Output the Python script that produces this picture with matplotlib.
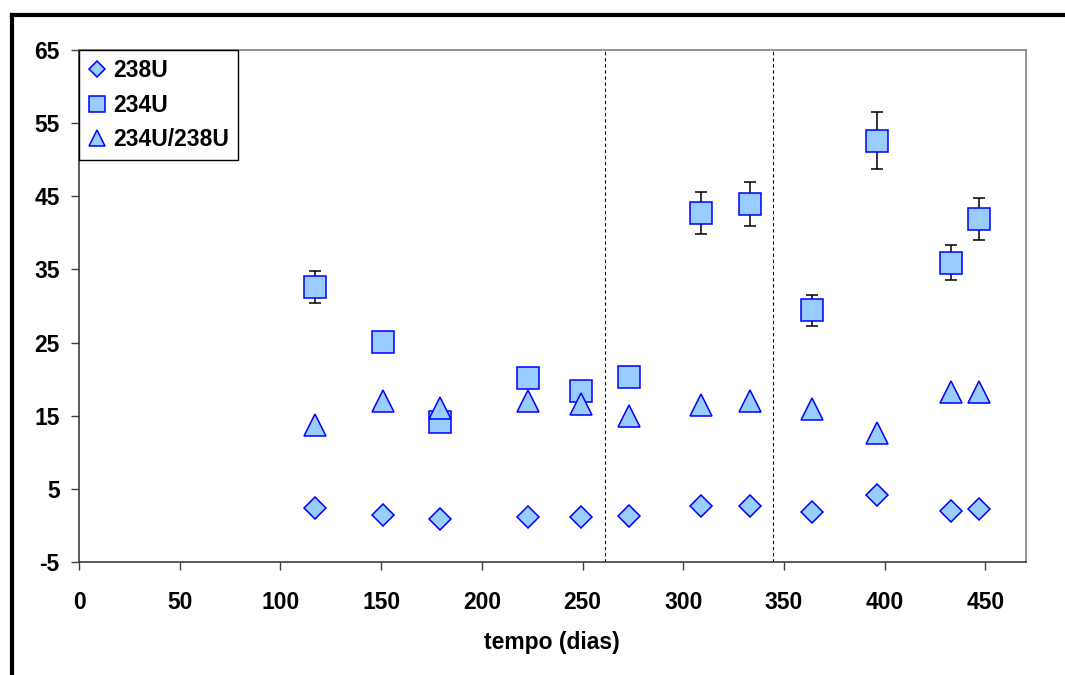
import numpy as np
import matplotlib
matplotlib.use("Agg")
import matplotlib.pyplot as plt
from matplotlib.lines import Line2D

# dias de amostragem
tempo = [117, 151, 179, 223, 249, 273, 309, 333, 364, 396, 433, 447]

u238 = [2.4, 1.4, 0.9, 1.15, 1.15, 1.3, 2.6, 2.6, 1.8, 4.2, 1.95, 2.3]
u234 = [32.6, 25.1, 14.1, 20.2, 18.4, 20.3, 42.7, 44.0, 29.4, 52.6, 35.9, 41.9]
u234_err = [2.2, 1.0, 1.0, 1.0, 1.0, 1.0, 2.9, 3.0, 2.1, 3.9, 2.4, 2.9]
razao = [13.7, 17.0, 16.0, 17.0, 16.6, 15.0, 16.4, 17.0, 15.9, 12.6, 18.3, 18.3]

# limites entre fases
fases = [261, 344.5]

face = '#99ccff'
edge = '#0000ff'
fs = 16.5

plt.rcParams['font.family'] = ['Liberation Sans', 'DejaVu Sans']
plt.rcParams['font.weight'] = 'bold'
plt.rcParams['axes.unicode_minus'] = False

fig = plt.figure(figsize=[10.65, 6.75], dpi=100)
ax = fig.add_axes([0.0742, 0.1674, 0.8889, 0.7585])

for xf in fases:
    ax.axvline(xf, color='k', lw=0.8, ls=(0, (3, 2.5)), zorder=1)

l238, = ax.plot(tempo, u238, ls='none', marker='D', ms=11.6, mfc=face,
                mec=edge, mew=1.1, zorder=3)
eb = ax.errorbar(tempo, u234, yerr=u234_err, ls='none', marker='s', ms=16.2,
                 mfc=face, mec=edge, mew=1.1, ecolor='k', elinewidth=1.1,
                 capsize=4.5, capthick=1.1, zorder=3)
lraz, = ax.plot(tempo, razao, ls='none', marker='^', ms=16.5, mfc=face,
                mec=edge, mew=1.1, zorder=4)

ax.set_xlim(0, 470)
ax.set_ylim(-5, 65)
ax.set_xticks(np.arange(0, 451, 50))
ax.set_yticks(np.arange(-5, 66, 10))
ax.tick_params(axis='both', direction='out', length=6, width=1,
               color='#404040', labelsize=fs)
ax.tick_params(axis='y', pad=8)
ax.tick_params(axis='x', pad=15)
for lab in ax.get_xticklabels() + ax.get_yticklabels():
    lab.set_fontweight('bold')

for s in ['top', 'right']:
    ax.spines[s].set_color('#808080')
    ax.spines[s].set_linewidth(1.2)
for s in ['left', 'bottom']:
    ax.spines[s].set_color('#404040')
    ax.spines[s].set_linewidth(1.2)

ax.set_xlabel('tempo (dias)', fontsize=fs, fontweight='bold', labelpad=12)

leg = ax.legend([l238, eb[0], lraz], ['238U', '234U', '234U/238U'],
                loc='upper left', bbox_to_anchor=(0, 1),
                borderaxespad=0, markerscale=0.72,
                handlelength=0.8, handletextpad=0.3, borderpad=0.4,
                labelspacing=0.5, fancybox=False, framealpha=1,
                edgecolor='k', prop={'weight': 'bold', 'size': fs})
leg.get_frame().set_linewidth(1.0)

# moldura preta do grafico (esquerda e topo)
fig.add_artist(Line2D([0.0113, 0.0113], [0, 0.9785], transform=fig.transFigure,
                      color='k', lw=3, solid_capstyle='projecting'))
fig.add_artist(Line2D([0.0113, 1.0], [0.9785, 0.9785], transform=fig.transFigure,
                      color='k', lw=3, solid_capstyle='projecting'))

fig.savefig('out.png', dpi=100)
